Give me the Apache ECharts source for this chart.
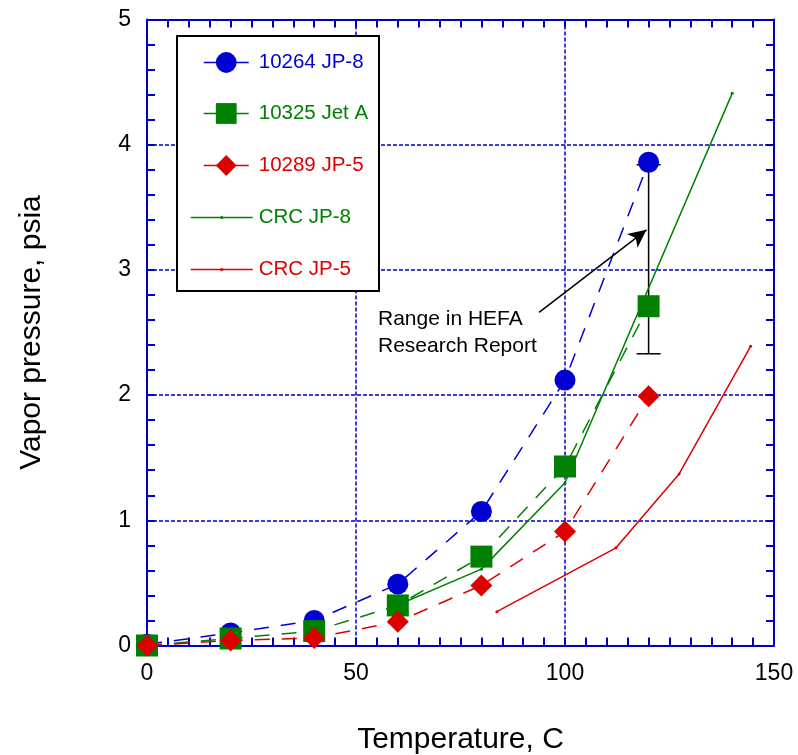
<!DOCTYPE html>
<html>
<head>
<meta charset="utf-8">
<script src="https://cdn.jsdelivr.net/npm/echarts@6/dist/echarts.min.js"></script>
<style>
html,body{margin:0;padding:0;background:#fff;}
#chart{width:798px;height:755px;}
</style>
</head>
<body>
<div id="chart"></div>
<script>
// ---- data ----
const temps = [0, 20, 40, 60, 80, 100, 120];
const jp8_10264 = [0.01, 0.10, 0.20, 0.49, 1.07, 2.12, 3.86];
const jetA_10325 = [0.0, 0.056, 0.115, 0.32, 0.71, 1.43, 2.71];
const jp5_10289 = [0.0, 0.04, 0.06, 0.19, 0.48, 0.91, 1.99];
const crcJP8_x = [59, 80, 100, 140];
const crcJP8_y = [0.31, 0.61, 1.30, 4.41];
const crcJP5_x = [83.7, 112.2, 127.3, 144.4];
const crcJP5_y = [0.27, 0.78, 1.37, 2.39];
const errX = [120];
const errLow = [2.33];
const errHigh = [3.84];
const arrowFrom = [93.8, 2.66];
const arrowTo = [119.5, 3.32];
const xTicks = [0, 50, 100, 150];
const yTicks = [0, 1, 2, 3, 4, 5];

const BLUE = '#0000D0', GREEN = '#008000', RED = '#DD0000';
const FONT = 'Liberation Sans, Arial, sans-serif';

const zip = (xs, ys) => xs.map((x, i) => [x, ys[i]]);

const axisBlue = '#0000CC';
function baseX(pos, showLabel) {
  return {
    type: 'value', position: pos, min: xTicks[0], max: xTicks[xTicks.length - 1], interval: 50,
    axisLine: { show: true, onZero: false, lineStyle: { color: axisBlue, width: 2 } },
    axisTick: { show: true, inside: true, length: 8, lineStyle: { color: axisBlue, width: 2 } },
    minorTick: { show: true, splitNumber: 10, length: 8, lineStyle: { color: axisBlue, width: 2 } },
    axisLabel: { show: showLabel, color: '#000', fontSize: 23, fontFamily: FONT, margin: 17 },
    splitLine: { show: showLabel, lineStyle: { color: axisBlue, width: 1.5, type: [4, 2] } },
    minorSplitLine: { show: false }
  };
}
function baseY(pos, showLabel) {
  return {
    type: 'value', position: pos, min: yTicks[0], max: yTicks[yTicks.length - 1], interval: 1,
    axisLine: { show: true, onZero: false, lineStyle: { color: axisBlue, width: 2 } },
    axisTick: { show: true, inside: true, length: 8, lineStyle: { color: axisBlue, width: 2 } },
    minorTick: { show: true, splitNumber: 5, length: 8, lineStyle: { color: axisBlue, width: 2 } },
    axisLabel: { show: showLabel, color: '#000', fontSize: 23, fontFamily: FONT, margin: 16 },
    splitLine: { show: showLabel, lineStyle: { color: axisBlue, width: 1.5, type: [4, 2] } },
    minorSplitLine: { show: false }
  };
}

const xMain = Object.assign(baseX('bottom', true), {
  name: 'Temperature, C', nameLocation: 'middle', nameGap: 79,
  nameTextStyle: { color: '#000', fontSize: 30, fontFamily: FONT }
});
const yMain = Object.assign(baseY('left', true), {
  name: 'Vapor pressure, psia', nameLocation: 'middle', nameGap: 100,
  nameTextStyle: { color: '#000', fontSize: 30, fontFamily: FONT }
});

const dash = [15, 12];

function legendItem(name, color, top, left, width, height, pad) {
  return {
    data: [{ name: name, textStyle: { color: color } }],
    left: left, top: top, orient: 'vertical', padding: 0,
    itemWidth: width, itemHeight: height, selectedMode: false,
    lineStyle: { type: 'solid', width: 1.5 },
    textStyle: { fontSize: 20.5, fontFamily: FONT, padding: [0, 0, 0, pad] }
  };
}

const option = {
  animation: false,
  backgroundColor: '#fff',
  grid: { left: 147, right: 24, top: 19.5, bottom: 109.5, containLabel: false, outerBoundsMode: 'none' },
  xAxis: [xMain, baseX('top', false)],
  yAxis: [yMain, baseY('right', false)],
  legend: [
    legendItem('10264 JP-8', BLUE, 52, 203, 45, 26, 5),
    legendItem('10325 Jet A', GREEN, 103, 203, 45, 26, 5),
    legendItem('10289 JP-5', RED, 155, 203, 45, 26, 5),
    legendItem('CRC JP-8', GREEN, 207, 190, 62, 4, 1),
    legendItem('CRC JP-5', RED, 259, 190, 62, 4, 1)
  ],
  graphic: [
    { type: 'rect', z: 3, shape: { x: 177, y: 36, width: 202, height: 255 },
      style: { fill: '#fff', stroke: '#000', lineWidth: 2 } },
    { type: 'text', z: 5, left: 378, top: 306,
      style: { text: 'Range in HEFA\nResearch Report', font: '21px ' + FONT, lineHeight: 27, fill: '#000' } }
  ],
  series: [
    { name: '10264 JP-8', type: 'line', data: zip(temps, jp8_10264), symbol: 'circle', symbolSize: 21,
      itemStyle: { color: BLUE }, lineStyle: { color: BLUE, width: 1.5, type: dash } },
    { name: '10325 Jet A', type: 'line', data: zip(temps, jetA_10325), symbol: 'rect', symbolSize: 22,
      itemStyle: { color: GREEN }, lineStyle: { color: GREEN, width: 1.5, type: dash } },
    { name: '10289 JP-5', type: 'line', data: zip(temps, jp5_10289), symbol: 'diamond', symbolSize: 22,
      itemStyle: { color: RED }, lineStyle: { color: RED, width: 1.5, type: dash } },
    { name: 'CRC JP-8', type: 'line', data: zip(crcJP8_x, crcJP8_y), symbol: 'circle', symbolSize: 3,
      itemStyle: { color: GREEN }, lineStyle: { color: GREEN, width: 1.5 } },
    { name: 'CRC JP-5', type: 'line', data: zip(crcJP5_x, crcJP5_y), symbol: 'circle', symbolSize: 3,
      itemStyle: { color: RED }, lineStyle: { color: RED, width: 1.5 } },
    { name: 'range', type: 'custom', z: 3,
      data: errX.map((x, i) => [x, errLow[i], errHigh[i]]),
      encode: { x: 0, y: [1, 2] },
      renderItem: function (params, api) {
        const x = api.value(0);
        const lo = api.coord([x, api.value(1)]);
        const hi = api.coord([x, api.value(2)]);
        const w = 12;
        const st = { stroke: '#000', lineWidth: 1.5 };
        return { type: 'group', children: [
          { type: 'line', shape: { x1: lo[0], y1: lo[1], x2: hi[0], y2: hi[1] }, style: st },
          { type: 'line', shape: { x1: lo[0] - w, y1: lo[1], x2: lo[0] + w, y2: lo[1] }, style: st },
          { type: 'line', shape: { x1: hi[0] - w, y1: hi[1], x2: hi[0] + w, y2: hi[1] }, style: st }
        ] };
      },
      markLine: {
        silent: true, symbol: ['none', 'arrow'], symbolSize: [13, 18],
        label: { show: false },
        lineStyle: { color: '#000', width: 1.5, type: 'solid' },
        data: [[{ coord: arrowFrom }, { coord: arrowTo }]]
      }
    }
  ]
};

const chart = echarts.init(document.getElementById('chart'), null, { renderer: 'canvas' });
chart.setOption(option);
</script>
</body>
</html>
